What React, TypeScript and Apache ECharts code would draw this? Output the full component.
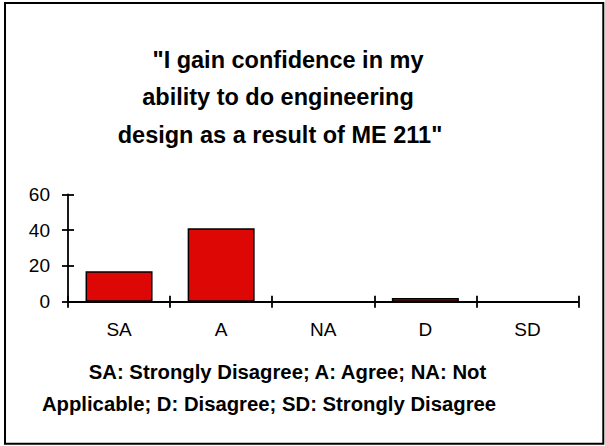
import React, { useEffect, useRef } from "react";
import * as echarts from "echarts";

const categories = ["SA", "A", "NA", "D", "SD"];
const values = [17, 41, 0, 2, 0];
const titleLines = ['"I gain confidence in my', "ability to do engineering", 'design as a result of ME 211"'];
const noteLines = ["SA: Strongly Disagree; A: Agree; NA: Not", "Applicable; D: Disagree; SD: Strongly Disagree"];

const FONT = '"Liberation Sans", Arial, Helvetica, sans-serif';

export default function App() {
  const ref = useRef<HTMLDivElement>(null);
  useEffect(() => {
    if (!ref.current) return;
    const chart = echarts.init(ref.current, null, { renderer: "svg" });
    const titlePos = [
      [288, 59.5],
      [278, 97],
      [280, 134.5],
    ];
    const notePos = [
      [287.5, 372],
      [269, 404],
    ];
    const axisW = 1.8;
    chart.setOption({
      animation: false,
      backgroundColor: "#ffffff",
      grid: { left: 68, right: 26.5, top: 194.3, bottom: 144.3, containLabel: false },
      xAxis: [
        {
          type: "category",
          data: categories,
          position: "bottom",
          axisLine: { show: true, lineStyle: { color: "#000", width: axisW } },
          axisTick: { show: true, inside: false, length: 6, lineStyle: { color: "#000", width: axisW } },
          axisLabel: { color: "#000", fontSize: 19, fontFamily: FONT, margin: 18 },
          splitLine: { show: false },
        },
        {
          type: "category",
          data: categories,
          position: "bottom",
          axisLine: { show: false },
          axisTick: { show: true, inside: true, length: 6, lineStyle: { color: "#000", width: axisW } },
          axisLabel: { show: false },
          splitLine: { show: false },
        },
      ],
      yAxis: [
        {
          type: "value",
          min: 0,
          max: 60,
          interval: 20,
          position: "left",
          axisLine: { show: true, lineStyle: { color: "#000", width: axisW } },
          axisTick: { show: true, inside: false, length: 6, lineStyle: { color: "#000", width: axisW } },
          axisLabel: { color: "#000", fontSize: 19, fontFamily: FONT, margin: 18 },
          splitLine: { show: false },
        },
        {
          type: "value",
          min: 0,
          max: 60,
          interval: 20,
          position: "left",
          axisLine: { show: false },
          axisTick: { show: true, inside: true, length: 6, lineStyle: { color: "#000", width: axisW } },
          axisLabel: { show: false },
          splitLine: { show: false },
        },
      ],
      series: [
        {
          type: "bar",
          data: values.map((v) =>
            v === 0 ? { value: v, itemStyle: { borderWidth: 0, opacity: 0 } } : v
          ),
          xAxisIndex: 0,
          yAxisIndex: 0,
          barWidth: 67,
          itemStyle: { color: "#dd0806", borderColor: "#000", borderWidth: 1.5 },
        },
      ],
      graphic: [
        {
          type: "rect",
          shape: { x: 5, y: 3, width: 598.3, height: 440.8 },
          style: { fill: "none", stroke: "#000", lineWidth: 2 },
          silent: true,
        },
        ...titleLines.map((t, i) => ({
          type: "text",
          x: titlePos[i][0],
          y: titlePos[i][1],
          style: {
            text: t,
            fill: "#000",
            font: `bold 23.5px ${FONT}`,
            textAlign: "center",
            textVerticalAlign: "middle",
          },
        })),
        ...noteLines.map((t, i) => ({
          type: "text",
          x: notePos[i][0],
          y: notePos[i][1],
          style: {
            text: t,
            fill: "#000",
            font: `bold 20.3px ${FONT}`,
            textAlign: "center",
            textVerticalAlign: "middle",
          },
        })),
      ],
    });
    return () => chart.dispose();
  }, []);
  return (
    <div
      ref={ref}
      style={{ position: "fixed", left: 0, top: 0, width: 605, height: 446 }}
    />
  );
}
